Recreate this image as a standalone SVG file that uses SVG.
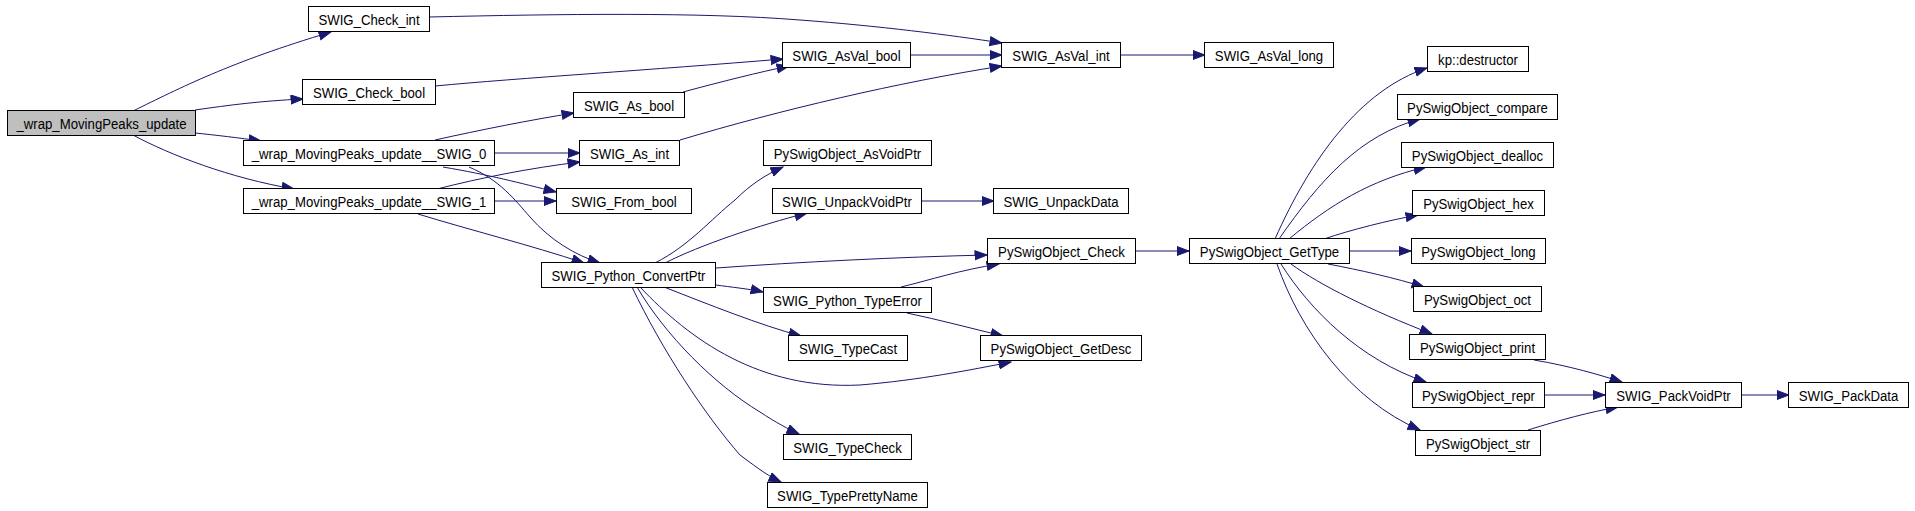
<svg xmlns="http://www.w3.org/2000/svg" width="1915" height="511" viewBox="0 0 1915 511">
<style>
.n rect{fill:#ffffff;stroke:#000000;stroke-width:1}
.n.root rect{fill:#bfbfbf}
.n text{font-family:"Liberation Sans",Arial,sans-serif;font-size:14.5px;fill:#000000;text-anchor:middle}
#edges path{fill:none;stroke:#191970;stroke-width:1;marker-end:url(#arr)}
</style>
<defs>
<marker id="arr" markerWidth="14" markerHeight="11" refX="12.5" refY="5" orient="auto" markerUnits="userSpaceOnUse">
<path d="M0.5,0.5 L12.5,5 L0.5,9.5 z" fill="#191970" stroke="#191970" stroke-width="1"/>
</marker>
</defs>
<rect width="1915" height="511" fill="#ffffff"/>
<g id="edges">
<path d="M133,111 C180,88 230,62 331,32"/>
<path d="M195,110 C230,105 260,101 303,99"/>
<path d="M195,133 C215,135 240,138 261,141"/>
<path d="M133,135 C170,155 230,178 294,189"/>
<path d="M429,17 C560,14 700,12 800,20 C880,26 950,35 1002,43"/>
<path d="M435,86 C520,78 650,70 783,59"/>
<path d="M683,92 C720,82 760,72 789,66"/>
<path d="M911,55 L1002,55"/>
<path d="M1120,55 L1205,55"/>
<path d="M680,140 C780,110 900,82 1002,66"/>
<path d="M435,140 C480,130 530,120 574,113"/>
<path d="M494,153 L580,153"/>
<path d="M443,167 C490,175 520,183 556,192"/>
<path d="M469,167 C500,180 515,200 530,217 C550,240 575,255 600,263"/>
<path d="M437,189 C480,178 530,168 580,162"/>
<path d="M494,201 L556,201"/>
<path d="M418,214 C470,230 530,245 584,263"/>
<path d="M655,263 C690,245 710,220 735,200 C750,185 765,175 783,167"/>
<path d="M665,263 C700,245 760,225 807,213"/>
<path d="M922,201 L994,201"/>
<path d="M716,268 C800,262 900,257 987,255"/>
<path d="M716,285 C730,287 750,289 763,292"/>
<path d="M901,287 C930,280 960,270 999,264"/>
<path d="M907,313 C940,320 970,328 1003,336"/>
<path d="M664,287 C710,305 760,325 801,336"/>
<path d="M640,287 C690,340 760,390 860,385 C920,380 970,370 1011,362"/>
<path d="M637,287 C665,335 715,385 760,412 C775,422 790,430 799,434"/>
<path d="M632,287 C662,350 705,415 740,455 C760,470 770,477 781,482"/>
<path d="M1136,251 L1189,251"/>
<path d="M1275,239 C1310,160 1360,90 1427,68"/>
<path d="M1279,239 C1320,180 1360,135 1420,119"/>
<path d="M1289,239 C1330,205 1370,180 1426,167"/>
<path d="M1324,239 C1350,230 1390,220 1418,215"/>
<path d="M1350,251 L1411,251"/>
<path d="M1328,264 C1360,270 1395,278 1424,287"/>
<path d="M1291,264 C1320,285 1370,310 1432,334"/>
<path d="M1281,264 C1310,310 1360,360 1426,382"/>
<path d="M1277,264 C1300,330 1350,400 1420,430"/>
<path d="M1534,360 C1570,366 1600,375 1622,382"/>
<path d="M1544,395 L1605,395"/>
<path d="M1528,430 C1560,420 1590,412 1618,407"/>
<path d="M1741,395 L1789,395"/>
</g>
<g id="n_wrap" class="n root"><rect x="7.5" y="110.5" width="188" height="25"/><text transform="translate(101.5,128.5) scale(0.91,1)">_wrap_MovingPeaks_update</text></g>
<g id="n_check_int" class="n"><rect x="308.5" y="6.5" width="121" height="25"/><text transform="translate(369,24.5) scale(0.91,1)">SWIG_Check_int</text></g>
<g id="n_check_bool" class="n"><rect x="302.5" y="79.5" width="133" height="25"/><text transform="translate(369,97.5) scale(0.91,1)">SWIG_Check_bool</text></g>
<g id="n_swig0" class="n"><rect x="243.5" y="140.5" width="251" height="25"/><text transform="translate(369,158.5) scale(0.91,1)">_wrap_MovingPeaks_update__SWIG_0</text></g>
<g id="n_swig1" class="n"><rect x="243.5" y="188.5" width="251" height="25"/><text transform="translate(369,206.5) scale(0.91,1)">_wrap_MovingPeaks_update__SWIG_1</text></g>
<g id="n_as_bool" class="n"><rect x="573.5" y="92.5" width="111" height="25"/><text transform="translate(629,110.5) scale(0.91,1)">SWIG_As_bool</text></g>
<g id="n_as_int" class="n"><rect x="579.5" y="140.5" width="100" height="25"/><text transform="translate(629.5,158.5) scale(0.91,1)">SWIG_As_int</text></g>
<g id="n_from_bool" class="n"><rect x="556.5" y="188.5" width="135" height="25"/><text transform="translate(624,206.5) scale(0.91,1)">SWIG_From_bool</text></g>
<g id="n_convertptr" class="n"><rect x="541.5" y="262.5" width="174" height="25"/><text transform="translate(628.5,280.5) scale(0.91,1)">SWIG_Python_ConvertPtr</text></g>
<g id="n_asval_bool" class="n"><rect x="782.5" y="42.5" width="128" height="25"/><text transform="translate(846.5,60.5) scale(0.91,1)">SWIG_AsVal_bool</text></g>
<g id="n_asval_int" class="n"><rect x="1001.5" y="42.5" width="119" height="25"/><text transform="translate(1061,60.5) scale(0.91,1)">SWIG_AsVal_int</text></g>
<g id="n_asval_long" class="n"><rect x="1204.5" y="42.5" width="129" height="25"/><text transform="translate(1269,60.5) scale(0.91,1)">SWIG_AsVal_long</text></g>
<g id="n_asvoidptr" class="n"><rect x="763.5" y="140.5" width="168" height="25"/><text transform="translate(847.5,158.5) scale(0.91,1)">PySwigObject_AsVoidPtr</text></g>
<g id="n_unpackvoidptr" class="n"><rect x="772.5" y="188.5" width="149" height="25"/><text transform="translate(847,206.5) scale(0.91,1)">SWIG_UnpackVoidPtr</text></g>
<g id="n_unpackdata" class="n"><rect x="993.5" y="188.5" width="135" height="25"/><text transform="translate(1061,206.5) scale(0.91,1)">SWIG_UnpackData</text></g>
<g id="n_check" class="n"><rect x="987.5" y="238.5" width="148" height="25"/><text transform="translate(1061.5,256.5) scale(0.91,1)">PySwigObject_Check</text></g>
<g id="n_typeerror" class="n"><rect x="763.5" y="287.5" width="168" height="25"/><text transform="translate(847.5,305.5) scale(0.91,1)">SWIG_Python_TypeError</text></g>
<g id="n_typecast" class="n"><rect x="788.5" y="335.5" width="119" height="25"/><text transform="translate(848,353.5) scale(0.91,1)">SWIG_TypeCast</text></g>
<g id="n_getdesc" class="n"><rect x="980.5" y="335.5" width="161" height="25"/><text transform="translate(1061,353.5) scale(0.91,1)">PySwigObject_GetDesc</text></g>
<g id="n_typecheck" class="n"><rect x="783.5" y="434.5" width="128" height="25"/><text transform="translate(847.5,452.5) scale(0.91,1)">SWIG_TypeCheck</text></g>
<g id="n_prettyname" class="n"><rect x="767.5" y="482.5" width="160" height="25"/><text transform="translate(847.5,500.5) scale(0.91,1)">SWIG_TypePrettyName</text></g>
<g id="n_gettype" class="n"><rect x="1189.5" y="238.5" width="160" height="25"/><text transform="translate(1269.5,256.5) scale(0.91,1)">PySwigObject_GetType</text></g>
<g id="n_destructor" class="n"><rect x="1427.5" y="46.5" width="101" height="25"/><text transform="translate(1478,64.5) scale(0.91,1)">kp::destructor</text></g>
<g id="n_compare" class="n"><rect x="1397.5" y="94.5" width="160" height="25"/><text transform="translate(1477.5,112.5) scale(0.91,1)">PySwigObject_compare</text></g>
<g id="n_dealloc" class="n"><rect x="1401.5" y="142.5" width="152" height="25"/><text transform="translate(1477.5,160.5) scale(0.91,1)">PySwigObject_dealloc</text></g>
<g id="n_hex" class="n"><rect x="1412.5" y="190.5" width="132" height="25"/><text transform="translate(1478.5,208.5) scale(0.91,1)">PySwigObject_hex</text></g>
<g id="n_long" class="n"><rect x="1411.5" y="238.5" width="134" height="25"/><text transform="translate(1478.5,256.5) scale(0.91,1)">PySwigObject_long</text></g>
<g id="n_oct" class="n"><rect x="1413.5" y="286.5" width="128" height="25"/><text transform="translate(1477.5,304.5) scale(0.91,1)">PySwigObject_oct</text></g>
<g id="n_print" class="n"><rect x="1409.5" y="334.5" width="136" height="25"/><text transform="translate(1477.5,352.5) scale(0.91,1)">PySwigObject_print</text></g>
<g id="n_repr" class="n"><rect x="1412.5" y="382.5" width="132" height="25"/><text transform="translate(1478.5,400.5) scale(0.91,1)">PySwigObject_repr</text></g>
<g id="n_str" class="n"><rect x="1415.5" y="430.5" width="125" height="25"/><text transform="translate(1478,448.5) scale(0.91,1)">PySwigObject_str</text></g>
<g id="n_packvoidptr" class="n"><rect x="1605.5" y="382.5" width="136" height="25"/><text transform="translate(1673.5,400.5) scale(0.91,1)">SWIG_PackVoidPtr</text></g>
<g id="n_packdata" class="n"><rect x="1788.5" y="382.5" width="120" height="25"/><text transform="translate(1848.5,400.5) scale(0.91,1)">SWIG_PackData</text></g>
</svg>
